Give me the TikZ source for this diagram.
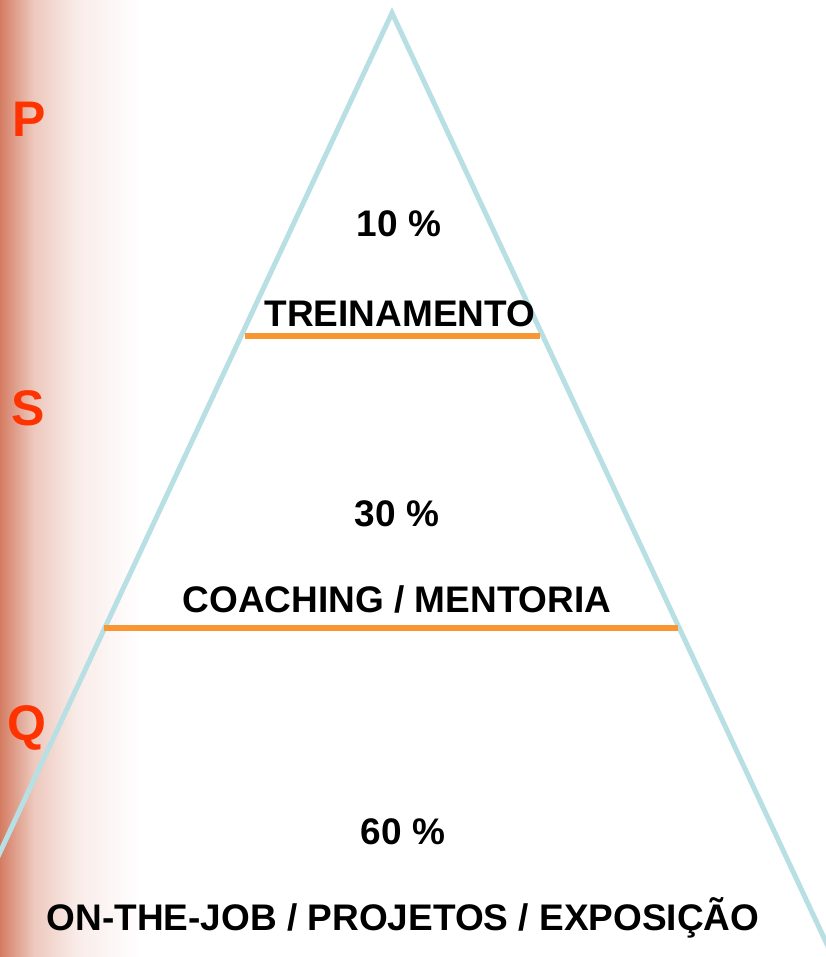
\documentclass[tikz,border=0pt]{standalone}
\usepackage{fontspec}
\setmainfont{Liberation Sans}
\usepackage{tikz}
\usetikzlibrary{positioning}
\definecolor{pyramidblue}{RGB}{184,224,228}
\definecolor{barorange}{RGB}{247,150,51}
\definecolor{letterred}{RGB}{255,51,0}
\definecolor{stripsalmon}{RGB}{212,124,98}
\pgfdeclarehorizontalshading{stripfade}{100bp}{color(0bp)=(stripsalmon);
color(25bp)=(stripsalmon);
color(29bp)=(stripsalmon!80!white);
color(37bp)=(stripsalmon!42!white);
color(52bp)=(stripsalmon!15!white);
color(75bp)=(white);
color(100bp)=(white)}
\tikzstyle{level} = [font=\fontsize{37}{44}\selectfont\bfseries,
text=black,
inner sep=0pt,
anchor=base]
\tikzstyle{marker} = [font=\fontsize{50}{60}\selectfont\bfseries,
text=letterred,
inner sep=0pt,
anchor=base]
\tikzstyle{side} = [pyramidblue,line width=5pt]
\tikzstyle{divider} = [barorange,line width=6pt]

\begin{document}
\begin{tikzpicture}[x=1pt,y=-1pt]
				\clip (0,0) rectangle (826,957);
				\fill[white] (0,0) rectangle (826,957);
				\shade[shading=stripfade] (0,0) rectangle (140,957);

				\coordinate (apex) at (392,13);
				\coordinate (base-l) at (-69,1000);
				\coordinate (base-r) at (853,1000);
				\coordinate (t-l) at (245,336);
				\coordinate (t-r) at (540,336);
				\coordinate (m-l) at (104,628);
				\coordinate (m-r) at (678,628);

				\draw[side] (base-l) -- (apex) -- (base-r);
				\draw[divider] (t-l) -- (t-r);
				\draw[divider] (m-l) -- (m-r);

				\node[level] (p-10) at (399,237) {10 \%};
				\node[level] (treino) at (400,326) {TREINAMENTO};
				\node[level] (p-30) at (397,526) {30 \%};
				\node[level] (coach) at (397,612) {COACHING / MENTORIA};
				\node[level] (p-60) at (403,844) {60 \%};
				\node[level] (job) at (403,930) {ON-THE-JOB / PROJETOS / EXPOSIÇÃO};

				\node[marker] (m-p) at (29,137) {P};
				\node[marker] (m-s) at (28,425) {S};
				\node[marker] (m-q) at (27,740) {Q};
			\end{tikzpicture}
\end{document}
